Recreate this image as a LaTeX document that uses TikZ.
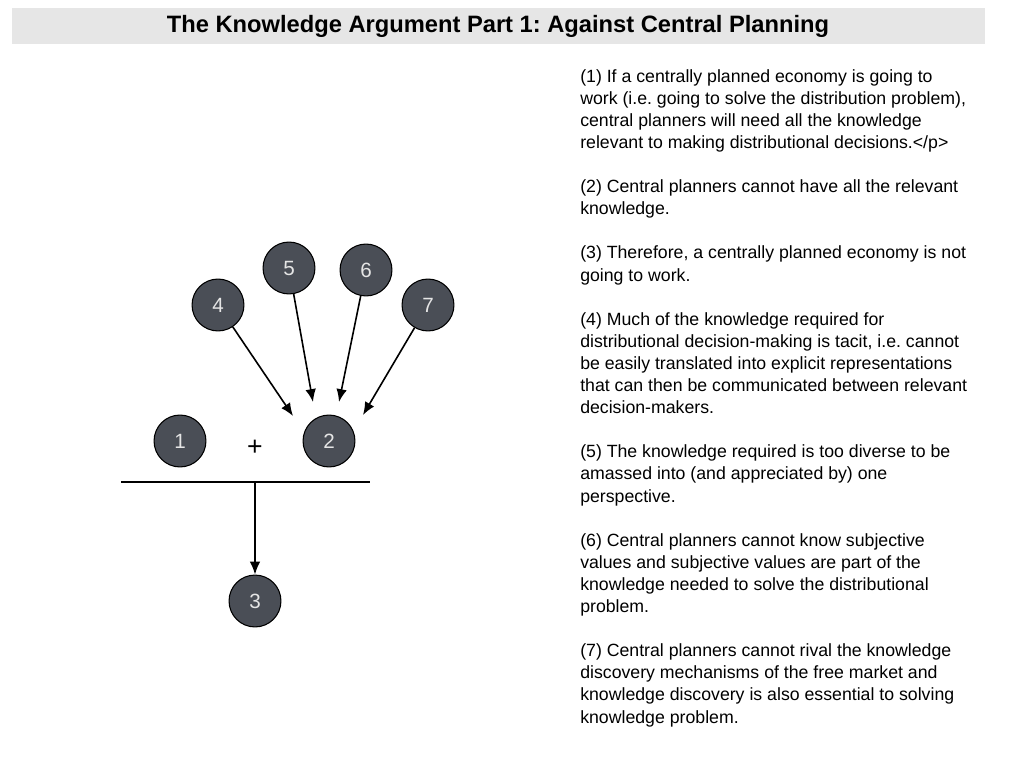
\documentclass[tikz,border=0pt]{standalone}
\usepackage{fontspec}
\setmainfont{Liberation Sans}
\usetikzlibrary{arrows.meta}
\frenchspacing
\definecolor{premfill}{HTML}{4A4E56}
\definecolor{titlebar}{HTML}{E6E6E6}
\tikzset{
  prem/.style={circle,draw=black,thick,fill=premfill,minimum size=1.37cm,inner sep=0pt,
    text=white!90!black,font=\fontsize{15.5}{17}\selectfont},
  infer/.style={-{Latex[length=3.4mm,width=2.8mm]},line width=1.2pt}
}
\begin{document}
\begin{tikzpicture}[x=0.0264cm,y=-0.0264cm]
  \useasboundingbox (0,0) rectangle (1024,768);
  % Title
  \fill[titlebar] (12,8) rectangle (985,44);
  \node[font=\bfseries\fontsize{17.8}{20}\selectfont] (title) at (498,26) {The Knowledge Argument Part 1: Against Central Planning};

  % Premises
  \node[prem] (p1) at (180,441) {1};
  \node[prem] (p2) at (329,441) {2};
  \node[prem] (p3) at (255,601) {3};
  \node[prem] (p4) at (218,305) {4};
  \node[prem] (p5) at (289,268) {5};
  \node[prem] (p6) at (366,270) {6};
  \node[prem] (p7) at (428,305) {7};
  \node[font=\fontsize{20}{20}\selectfont] (plus) at (255,448) {+};

  % Inference line
  \coordinate (barl) at (121,482);
  \coordinate (barr) at (370,482);
  \coordinate (barm) at (255,482);
  \draw[line width=1.4pt] (barl) -- (barr);
  \draw[infer] (barm) -- (p3);

  % Support arrows
  \coordinate (t4) at (293,416);
  \coordinate (t5) at (313,402);
  \coordinate (t6) at (339,402);
  \coordinate (t7) at (363,415);
  \draw[infer] (p4) -- (t4);
  \draw[infer] (p5) -- (t5);
  \draw[infer] (p6) -- (t6);
  \draw[infer] (p7) -- (t7);

  % Premise text
  \node[anchor=north west,align=left,inner sep=0pt,
        font=\fontsize{13.3}{16.6}\selectfont] (txt) at (580,69) {%
    (1) If a centrally planned economy is going to\\
    work (i.e. going to solve the distribution problem),\\
    central planners will need all the knowledge\\
    relevant to making distributional decisions.</p>\\[16.6pt]
    (2) Central planners cannot have all the relevant\\
    knowledge.\\[16.6pt]
    (3) Therefore, a centrally planned economy is not\\
    going to work.\\[16.6pt]
    (4) Much of the knowledge required for\\
    distributional decision-making is tacit, i.e. cannot\\
    be easily translated into explicit representations\\
    that can then be communicated between relevant\\
    decision-makers.\\[16.6pt]
    (5) The knowledge required is too diverse to be\\
    amassed into (and appreciated by) one\\
    perspective.\\[16.6pt]
    (6) Central planners cannot know subjective\\
    values and subjective values are part of the\\
    knowledge needed to solve the distributional\\
    problem.\\[16.6pt]
    (7) Central planners cannot rival the knowledge\\
    discovery mechanisms of the free market and\\
    knowledge discovery is also essential to solving\\
    knowledge problem.};
\end{tikzpicture}
\end{document}
